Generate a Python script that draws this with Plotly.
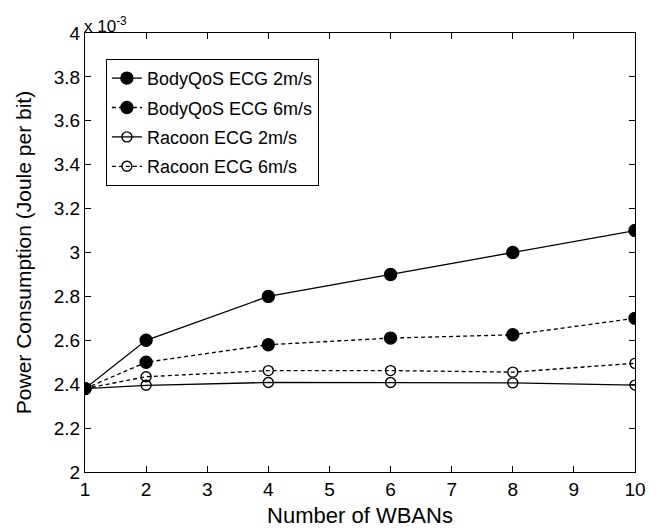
import plotly.graph_objects as go

x_vals = [1, 2, 4, 6, 8, 10]
bodyqos_2 = [2.38, 2.60, 2.80, 2.90, 3.00, 3.10]
bodyqos_6 = [2.38, 2.50, 2.58, 2.61, 2.625, 2.70]
racoon_2 = [2.38, 2.395, 2.408, 2.408, 2.406, 2.396]
racoon_6 = [2.38, 2.434, 2.462, 2.462, 2.455, 2.495]
names = ["BodyQoS ECG 2m/s", "BodyQoS ECG 6m/s", "Racoon ECG 2m/s", "Racoon ECG 6m/s"]
x_ticks = list(range(1, 11))
y_ticks = [2, 2.2, 2.4, 2.6, 2.8, 3, 3.2, 3.4, 3.6, 3.8, 4]

FONT = "Liberation Sans, Arial, Helvetica, sans-serif"

fig = go.Figure()
series = [bodyqos_2, bodyqos_6, racoon_2, racoon_6]
styles = [("solid", "circle", 12), ("dash", "circle", 12), ("solid", "circle-open", 10), ("dash", "circle-open", 10)]
for i, (name, ys, (dash, sym, sz)) in enumerate(zip(names, series, styles)):
    fig.add_trace(go.Scatter(
        x=x_vals, y=ys, name=name, mode="lines+markers", legendgroup="g%d" % i,
        line=dict(color="black", width=1.3, dash="4px,3px" if dash == "dash" else "solid"),
        marker=dict(symbol=sym, size=sz, color="black", line=dict(color="black", width=1.4)),
    ))

axis_common = dict(
    showline=True, linecolor="black", linewidth=1, mirror="ticks",
    ticks="inside", ticklen=6, tickcolor="black", showgrid=False, zeroline=False,
    automargin=False,
    tickfont=dict(family=FONT, size=19, color="black"),
)
fig.update_layout(
    width=661, height=528,
    margin=dict(l=85, r=26, t=33, b=56),
    paper_bgcolor="white", plot_bgcolor="white",
    font=dict(family=FONT, color="black"),
    xaxis=dict(range=[1, 10], tickvals=x_ticks, ticktext=[str(v) for v in x_ticks],
               title=dict(text="Number of WBANs", font=dict(size=22), standoff=8), **axis_common),
    yaxis=dict(range=[2, 4], tickvals=y_ticks, ticktext=[("%g" % v) for v in y_ticks],
               title=dict(text="Power Consumption (Joule per bit)", font=dict(size=21), standoff=16), **axis_common),
    legend=dict(x=0.038, y=0.941, xanchor="left", yanchor="top",
                bordercolor="black", borderwidth=1, bgcolor="white",
                traceorder="grouped", tracegroupgap=3,
                font=dict(family=FONT, size=18, color="black"), itemwidth=30),
    showlegend=True,
)
fig.add_annotation(xref="paper", yref="paper", x=0, y=1, xanchor="left", yanchor="bottom",
                   text="x 10<sup>-3</sup>", showarrow=False,
                   font=dict(family=FONT, size=17, color="black"), yshift=-5, xshift=-3)
fig.write_html("out.html", config={"displayModeBar": False},
               post_script="document.body.style.margin='0';")
